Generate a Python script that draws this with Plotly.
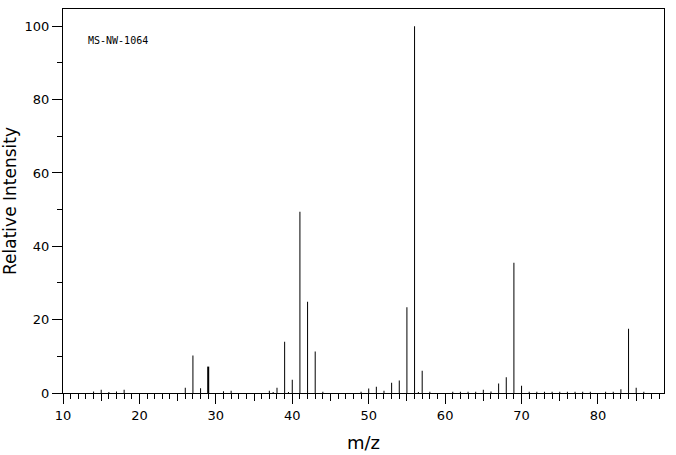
import plotly.graph_objects as go

# Mass spectrum MS-NW-1064
mz = [14, 15, 16, 17, 18, 26, 27, 28, 31, 32, 37, 37.5, 38, 39, 39.5, 40, 41, 42, 43, 44,
      49, 50, 51, 52, 53, 54, 55, 56, 56.5, 57, 58, 61, 62, 63, 64, 65, 66, 67, 68, 69, 70,
      71, 72, 73, 74, 75, 76, 77, 78, 79, 81, 82, 83, 84, 85, 86]
intensity = [0.4, 0.9, 0.3, 0.4, 0.9, 1.4, 10.2, 1.3, 0.5, 0.6, 0.6, 0.3, 1.4, 14.0, 0.3, 3.6,
             49.4, 24.9, 11.3, 0.35, 0.35, 1.2, 1.7, 0.6, 2.8, 3.4, 23.4, 100.0, 0.3, 6.1,
             0.35, 0.35, 0.35, 0.35, 0.35, 0.9, 0.4, 2.6, 4.3, 35.5, 2.0, 0.35, 0.35, 0.35,
             0.35, 0.35, 0.35, 0.35, 0.35, 0.35, 0.35, 0.35, 1.0, 17.5, 1.45, 0.35]
# peak drawn with a heavier stroke in the reference
heavy_mz = [29]
heavy_intensity = [7.2]

x_range = [10, 88.64]
y_range = [0, 104.7]
x_major = 10
x_mid_ticks = [15, 25, 35, 45, 55, 65, 75, 85]
label = "MS-NW-1064"

ink = "rgba(0,0,0,0.999)"
fig = go.Figure()
fig.add_trace(go.Bar(x=mz, y=intensity, width=0.131, marker=dict(color=ink, line=dict(width=0)),
                     hoverinfo="skip", showlegend=False))
fig.add_trace(go.Bar(x=heavy_mz, y=heavy_intensity, width=0.262,
                     marker=dict(color=ink, line=dict(width=0)),
                     xaxis="x2", hoverinfo="skip", showlegend=False))

font = "DejaVu Sans"
fig.update_layout(
    width=676, height=455,
    margin=dict(l=63, r=12, t=9, b=62),
    paper_bgcolor="white", plot_bgcolor="white",
    font=dict(family=font, color="black", size=13),
    barmode="overlay",
    xaxis=dict(
        range=x_range, dtick=x_major, tick0=10, ticks="outside", ticklen=10, tickwidth=1,
        tickcolor="black", showline=True, linecolor="black", linewidth=1, mirror=True,
        showgrid=False, zeroline=False, automargin=False,
        minor=dict(dtick=1, ticklen=5, tickcolor="black", tickwidth=1, ticks="outside", showgrid=False),
        tickfont=dict(size=13),
        title=dict(text="m/z", font=dict(size=18), standoff=14),
    ),
    xaxis2=dict(
        range=x_range, overlaying="x", anchor="y", side="bottom",
        tickvals=x_mid_ticks, ticks="outside", ticklen=7, tickwidth=1, tickcolor="black",
        showticklabels=False, showline=False, showgrid=False, zeroline=False, automargin=False,
    ),
    yaxis=dict(
        range=y_range, dtick=20, tick0=0, ticks="outside", ticklen=10, tickwidth=1,
        tickcolor="black", showline=True, linecolor="black", linewidth=1, mirror=True,
        showgrid=False, zeroline=False, automargin=False,
        minor=dict(dtick=10, ticklen=5, tickcolor="black", tickwidth=1, ticks="outside", showgrid=False),
        tickfont=dict(size=13),
        title=dict(text="Relative Intensity", font=dict(size=17), standoff=8),
    ),
    annotations=[dict(text=label, x=13.05, y=96, xref="x", yref="y", xanchor="left",
                      yanchor="middle", showarrow=False,
                      font=dict(family="DejaVu Sans Mono", size=10, color="black"))],
)

fig.write_html("out.html")
